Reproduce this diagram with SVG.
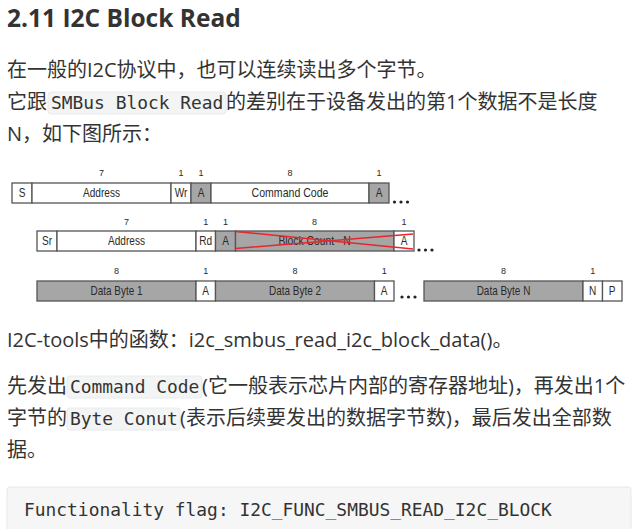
<svg xmlns="http://www.w3.org/2000/svg" width="636" height="529" viewBox="0 0 636 529">
<style>
.t{font-family:"Open Sans","Noto Sans CJK SC",sans-serif;font-size:20px;fill:#333}
.h{font-family:"Open Sans","Noto Sans CJK SC",sans-serif;font-size:24.5px;font-weight:bold;fill:#333}
.c{font-family:"DejaVu Sans Mono","Liberation Mono",monospace;font-size:17.9px;fill:#333}
.cb{fill:#f3f4f4;stroke:#e7eaed;stroke-width:1}
.w{fill:#fff;stroke:#555;stroke-width:1.3}
.g{fill:#a6a6a6;stroke:#555;stroke-width:1.3}
.l{font-family:"Liberation Sans Narrow","Liberation Sans",Arial,sans-serif;font-size:12px;fill:#2a2a2a;text-anchor:middle}
.n{font-family:"Liberation Sans",Arial,sans-serif;font-size:9px;fill:#2a2a2a;text-anchor:middle}
.x{stroke:#e8262e;stroke-width:1.5;fill:none}
.d{fill:#222}
</style>
<rect width="636" height="529" fill="#fff"/>
<text class="h" x="7" y="27">2.11 I2C Block Read</text>
<text class="t" x="7" y="77">在一般的I2C协议中，也可以连续读出多个字节。</text>
<rect class="cb" x="48" y="92" width="178" height="22" rx="3"/>
<text class="t" x="7" y="109">它跟</text>
<text class="c" x="51" y="109">SMBus Block Read</text>
<text class="t" x="226" y="109">的差别在于设备发出的第1个数据不是长度</text>
<text class="t" x="7" y="141">N，如下图所示：</text>

<g id="row1">
<g id="s"><rect class="w" x="12" y="183" width="20" height="20"/><text class="l" transform="translate(22 197) scale(0.84 1)">S</text></g>
<g id="addr1"><rect class="w" x="32" y="183" width="139" height="20"/><text class="l" transform="translate(101.5 197) scale(0.84 1)">Address</text><text class="n" x="101.5" y="176">7</text></g>
<g id="wr"><rect class="w" x="171" y="183" width="20" height="20"/><text class="l" transform="translate(181 197) scale(0.84 1)">Wr</text><text class="n" x="181" y="176">1</text></g>
<g id="a1"><rect class="g" x="191" y="183" width="20" height="20"/><text class="l" transform="translate(201 197) scale(0.84 1)">A</text><text class="n" x="201" y="176">1</text></g>
<g id="cmd"><rect class="w" x="211" y="183" width="158" height="20"/><text class="l" transform="translate(290 197) scale(0.88 1)">Command Code</text><text class="n" x="290" y="176">8</text></g>
<g id="a2"><rect class="g" x="369" y="183" width="20" height="20"/><text class="l" transform="translate(379 197) scale(0.84 1)">A</text><text class="n" x="379" y="176">1</text></g>
<circle class="d" cx="394.5" cy="202" r="1.6"/><circle class="d" cx="401" cy="202" r="1.6"/><circle class="d" cx="407.5" cy="202" r="1.6"/>
</g>

<g id="row2">
<g id="sr"><rect class="w" x="37" y="231" width="20" height="20"/><text class="l" transform="translate(47 245) scale(0.84 1)">Sr</text></g>
<g id="addr2"><rect class="w" x="57" y="231" width="139" height="20"/><text class="l" transform="translate(126.5 245) scale(0.84 1)">Address</text><text class="n" x="126.5" y="224.5">7</text></g>
<g id="rd"><rect class="w" x="196" y="231" width="19.5" height="20"/><text class="l" transform="translate(205.7 245) scale(0.84 1)">Rd</text><text class="n" x="205.7" y="224.5">1</text></g>
<g id="a3"><rect class="g" x="215.5" y="231" width="20" height="20"/><text class="l" transform="translate(225.5 245) scale(0.84 1)">A</text><text class="n" x="225.5" y="224.5">1</text></g>
<g id="bc"><rect class="g" x="235.5" y="231" width="158.5" height="20"/><text class="l" transform="translate(314.5 245) scale(0.86 1)">Block Count - N</text><text class="n" x="314.5" y="224.5">8</text></g>
<g id="a4"><rect class="w" x="394" y="231" width="20" height="20"/><text class="l" transform="translate(404 245) scale(0.84 1)">A</text><text class="n" x="404" y="224.5">1</text></g>
<circle class="d" cx="419" cy="250" r="1.6"/><circle class="d" cx="425.5" cy="250" r="1.6"/><circle class="d" cx="432" cy="250" r="1.6"/>
</g>

<g id="cross">
<line class="x" x1="235.5" y1="231.5" x2="413" y2="249"/>
<line class="x" x1="235.5" y1="248.5" x2="413" y2="234"/>
</g>

<g id="row3">
<g id="db1"><rect class="g" x="37" y="281" width="159" height="20"/><text class="l" transform="translate(116.5 295) scale(0.83 1)">Data Byte 1</text><text class="n" x="116.5" y="274">8</text></g>
<g id="a5"><rect class="w" x="196" y="281" width="19.5" height="20"/><text class="l" transform="translate(205.7 295) scale(0.84 1)">A</text><text class="n" x="205.7" y="274">1</text></g>
<g id="db2"><rect class="g" x="215.5" y="281" width="159" height="20"/><text class="l" transform="translate(295 295) scale(0.83 1)">Data Byte 2</text><text class="n" x="295" y="274">8</text></g>
<g id="a6"><rect class="w" x="374.5" y="281" width="19.5" height="20"/><text class="l" transform="translate(384.2 295) scale(0.84 1)">A</text><text class="n" x="384.2" y="274">1</text></g>
<circle class="d" cx="402" cy="297" r="1.6"/><circle class="d" cx="408.5" cy="297" r="1.6"/><circle class="d" cx="415" cy="297" r="1.6"/>
<g id="dbn"><rect class="g" x="424" y="281" width="159" height="20"/><text class="l" transform="translate(503.5 295) scale(0.83 1)">Data Byte N</text><text class="n" x="503.5" y="274">8</text></g>
<g id="nn"><rect class="w" x="583" y="281" width="19.5" height="20"/><text class="l" transform="translate(592.7 295) scale(0.84 1)">N</text><text class="n" x="592.7" y="274">1</text></g>
<g id="p"><rect class="w" x="602.5" y="281" width="19.5" height="20"/><text class="l" transform="translate(612.2 295) scale(0.84 1)">P</text></g>
</g>

<text class="t" x="7" y="347">I2C-tools中的函数：i2c_smbus_read_i2c_block_data()。</text>
<rect class="cb" x="67" y="376" width="135" height="22" rx="3"/>
<text class="t" x="7" y="393">先发出</text>
<text class="c" x="70" y="393">Command Code</text>
<text class="t" x="202" y="393">(它一般表示芯片内部的寄存器地址)，再发出1个</text>
<rect class="cb" x="67" y="408" width="113" height="22" rx="3"/>
<text class="t" x="7" y="425">字节的</text>
<text class="c" x="70" y="425">Byte Conut</text>
<text class="t" x="180" y="425">(表示后续要发出的数据字节数)，最后发出全部数</text>
<text class="t" x="7" y="457">据。</text>

<rect x="7" y="487" width="624" height="60" rx="3" fill="#f6f6f6" stroke="#e8e8e8"/>
<text class="c" x="24" y="516">Functionality flag: I2C_FUNC_SMBUS_READ_I2C_BLOCK</text>
</svg>
